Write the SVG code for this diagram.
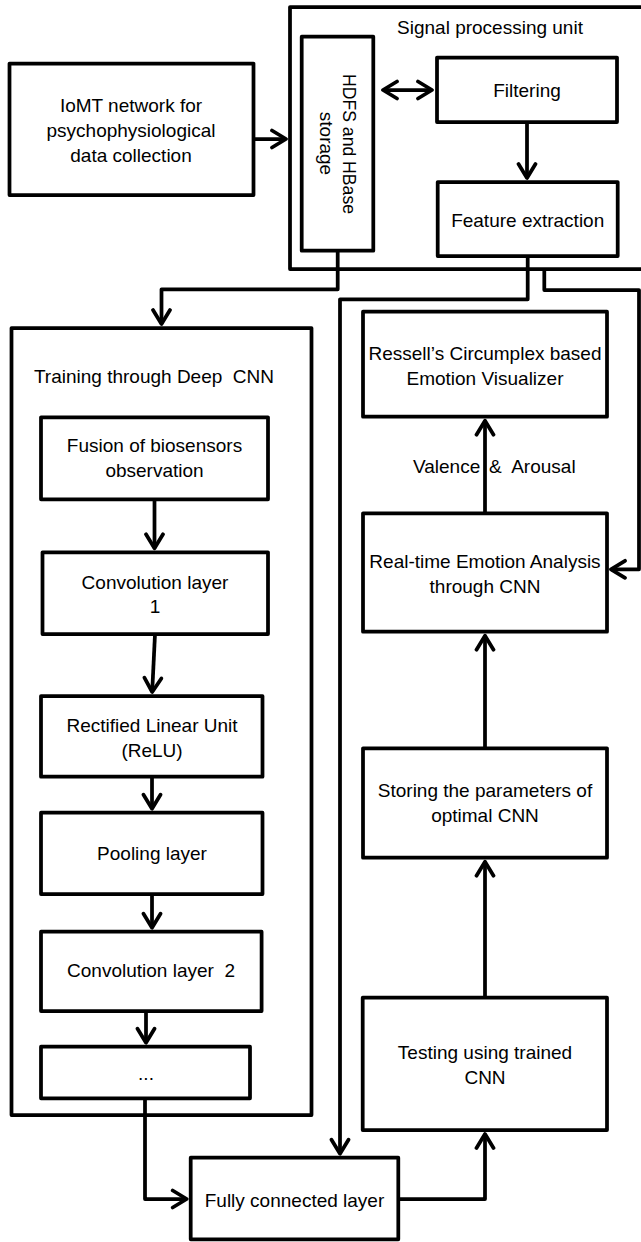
<svg xmlns="http://www.w3.org/2000/svg" width="641" height="1242" viewBox="0 0 641 1242">
<style>
.box{fill:none;stroke:#000;stroke-width:3.75;stroke-linejoin:round}
.cn{fill:none;stroke:#000;stroke-width:3.75;stroke-linejoin:round}
.arr{marker-end:url(#ah)}
text{font-family:"Liberation Sans",Arial,sans-serif;font-size:19px;fill:#000}
.c{text-anchor:middle}
</style>
<defs>
<marker id="ah" markerUnits="userSpaceOnUse" viewBox="-17 -11 20 22" markerWidth="20" markerHeight="22" refX="0" refY="0" orient="auto-start-reverse">
<path d="M-14,-8.5 L0,0 L-14,8.5" fill="none" stroke="#000" stroke-width="3.75" stroke-linecap="round" stroke-linejoin="round"/>
</marker>
</defs>
<rect width="641" height="1242" fill="#fff"/>

<g id="signal-unit">
<rect class="box" x="290" y="7" width="400" height="262"/>
<text class="c" x="490" y="34">Signal processing unit</text>
</g>
<g id="iomt">
<rect class="box" x="9.5" y="63.5" width="244" height="131.5"/>
<text class="c" x="131" y="112">IoMT network for</text>
<text class="c" x="131" y="137">psychophysiological</text>
<text class="c" x="131" y="162">data collection</text>
</g>
<g id="hdfs">
<rect class="box" x="301.7" y="36.7" width="71.6" height="214"/>
<text class="c" transform="translate(343,144) rotate(90)" textLength="140" lengthAdjust="spacingAndGlyphs">HDFS and HBase</text>
<text class="c" transform="translate(320,143.5) rotate(90)">storage</text>
</g>
<g id="filtering">
<rect class="box" x="437" y="57.5" width="180" height="64.5"/>
<text class="c" x="527" y="97">Filtering</text>
</g>
<g id="feature">
<rect class="box" x="437.7" y="182" width="180" height="74"/>
<text class="c" x="527.7" y="226.5">Feature extraction</text>
</g>
<g id="training">
<rect class="box" x="11.5" y="328" width="300" height="787"/>
<text class="c" x="154" y="383" xml:space="preserve">Training through Deep  CNN</text>
</g>
<g id="fusion">
<rect class="box" x="41" y="417.3" width="227" height="82"/>
<text class="c" x="154.5" y="452">Fusion of biosensors</text>
<text class="c" x="154.5" y="477">observation</text>
</g>
<g id="conv1">
<rect class="box" x="42.5" y="552.3" width="225.5" height="81.7"/>
<text class="c" x="155" y="588.5">Convolution layer</text>
<text class="c" x="155" y="613">1</text>
</g>
<g id="relu">
<rect class="box" x="41" y="696" width="221.5" height="80.7"/>
<text class="c" x="152" y="731.5">Rectified Linear Unit</text>
<text class="c" x="152" y="756.5">(ReLU)</text>
</g>
<g id="pooling">
<rect class="box" x="41" y="812.7" width="221.5" height="81.3"/>
<text class="c" x="152" y="860">Pooling layer</text>
</g>
<g id="conv2">
<rect class="box" x="41" y="931.7" width="220.6" height="79.3"/>
<text class="c" x="151" y="977" xml:space="preserve">Convolution layer  2</text>
</g>
<g id="more-layers">
<rect class="box" x="41" y="1046.7" width="209" height="51.6"/>
<text class="c" x="146" y="1080">...</text>
</g>
<g id="fully-connected">
<rect class="box" x="190.7" y="1157.7" width="207.6" height="81.6"/>
<text class="c" x="294.5" y="1207">Fully connected layer</text>
</g>
<g id="testing">
<rect class="box" x="362.7" y="997.7" width="244.3" height="132.3"/>
<text class="c" x="485" y="1059">Testing using trained</text>
<text class="c" x="485" y="1084">CNN</text>
</g>
<g id="storing">
<rect class="box" x="363" y="748.3" width="244" height="109.4"/>
<text class="c" x="485" y="797">Storing the parameters of</text>
<text class="c" x="485" y="822">optimal CNN</text>
</g>
<g id="realtime">
<rect class="box" x="363" y="513.3" width="244" height="118.4"/>
<text class="c" x="485" y="568">Real-time Emotion Analysis</text>
<text class="c" x="485" y="593">through CNN</text>
</g>
<g id="visualizer">
<rect class="box" x="363" y="311.7" width="244" height="105"/>
<text class="c" x="485" y="359.5">Ressell’s Circumplex based</text>
<text class="c" x="485" y="384.5">Emotion Visualizer</text>
</g>

<g id="connectors">
<path class="cn arr" d="M253.3,139 H286"/>
<path class="cn" d="M383,90 H432" marker-start="url(#ah)" marker-end="url(#ah)"/>
<path class="cn arr" d="M527,122 V178"/>
<path class="cn arr" d="M337.7,250.7 V289.3 H161.5 V324"/>
<path class="cn arr" d="M527.7,256 V299.3 H340 V1153.7"/>
<path class="cn arr" d="M544.3,269 V290 H639 V569.3 H611"/>
<path class="cn arr" d="M154.5,499.3 V548.3"/>
<path class="cn arr" d="M155,634 L152.2,692"/>
<path class="cn arr" d="M152,776.7 V808.7"/>
<path class="cn arr" d="M152,894 V927.7"/>
<path class="cn arr" d="M146,1011 V1042.7"/>
<path class="cn arr" d="M145,1098.3 V1199 H186.7"/>
<path class="cn arr" d="M398.3,1199 H485 V1134"/>
<path class="cn arr" d="M485,997.7 V861.7"/>
<path class="cn arr" d="M485,748.3 V635.7"/>
<path class="cn arr" d="M485,513.3 V420.7"/>
<text xml:space="preserve" y="473"><tspan x="413">Valence </tspan><tspan x="489">&amp;  Arousal</tspan></text>
</g>
</svg>
